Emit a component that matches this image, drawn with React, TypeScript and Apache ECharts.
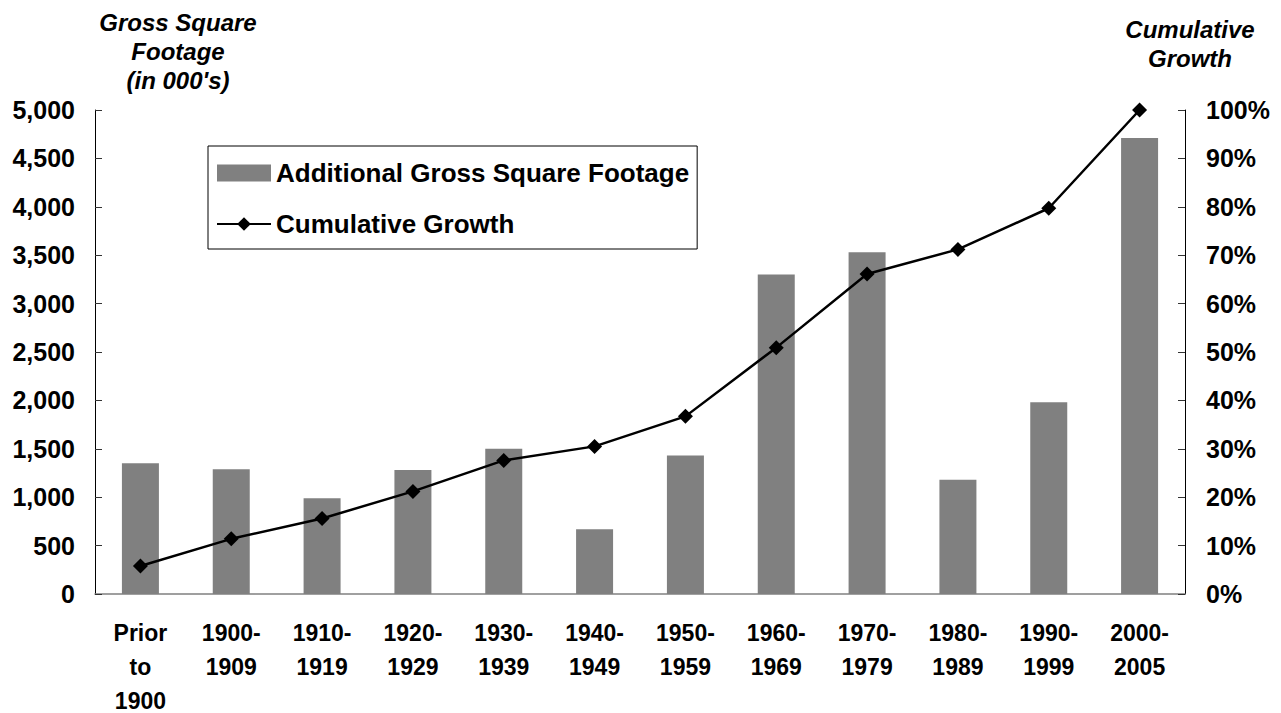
import React, { useEffect, useRef } from "react";
import * as echarts from "echarts";

const categories = [
  "Prior\nto\n1900",
  "1900-\n1909",
  "1910-\n1919",
  "1920-\n1929",
  "1930-\n1939",
  "1940-\n1949",
  "1950-\n1959",
  "1960-\n1969",
  "1970-\n1979",
  "1980-\n1989",
  "1990-\n1999",
  "2000-\n2005",
];
const additionalSqFt = [1350, 1290, 990, 1280, 1500, 670, 1430, 3300, 3530, 1180, 1980, 4710];
const cumulativeGrowth = [5.8, 11.4, 15.6, 21.2, 27.6, 30.5, 36.7, 50.9, 66.1, 71.2, 79.7, 100];

const leftTitle = "Gross Square\nFootage\n(in 000's)";
const rightTitle = "Cumulative\nGrowth";
const barName = "Additional Gross Square Footage";
const lineName = "Cumulative Growth";

const FONT = "Liberation Sans, Arial, Helvetica, sans-serif";

export default function App() {
  const ref = useRef<HTMLDivElement>(null);
  useEffect(() => {
    if (!ref.current) return;
    const chart = echarts.init(ref.current, null, { renderer: "svg" });
    chart.setOption({
      animation: false,
      backgroundColor: "#ffffff",
      textStyle: { fontFamily: FONT },
      graphic: [
        {
          type: "text",
          x: 178,
          y: 8,
          style: {
            text: leftTitle,
            fill: "#000",
            font: `italic bold 24px ${FONT}`,
            align: "center",
            verticalAlign: "top",
            lineHeight: 29,
          },
        },
        {
          type: "text",
          x: 1190,
          y: 15,
          style: {
            text: rightTitle,
            fill: "#000",
            font: `italic bold 24px ${FONT}`,
            align: "center",
            verticalAlign: "top",
            lineHeight: 29,
          },
        },
      ],
      legend: {
        orient: "vertical",
        left: 208,
        top: 146,
        padding: [14, 8, 12, 8],
        itemGap: 25,
        itemWidth: 54,
        itemHeight: 17,
        borderColor: "#000",
        borderWidth: 1,
        backgroundColor: "#fff",
        textStyle: {
          fontSize: 26,
          lineHeight: 26,
          fontWeight: "bold",
          color: "#000",
          fontFamily: FONT,
        },
        data: [
          { name: barName, icon: "rect" },
          { name: lineName },
        ],
      },
      grid: { left: 95, right: 96, top: 110, bottom: 119, outerBoundsMode: "none", containLabel: false },
      xAxis: {
        type: "category",
        data: categories,
        axisTick: { show: false },
        axisLine: { lineStyle: { color: "#808080", width: 1.5 } },
        axisLabel: {
          interval: 0,
          margin: 22,
          fontSize: 23,
          lineHeight: 34,
          fontWeight: "bold",
          color: "#000",
          fontFamily: FONT,
          align: "center",
        },
      },
      yAxis: [
        {
          type: "value",
          min: 0,
          max: 5000,
          interval: 500,
          splitLine: { show: false },
          axisLine: { show: true, lineStyle: { color: "#000", width: 1 } },
          axisTick: { show: true, inside: true, length: 7, lineStyle: { color: "#333" } },
          axisLabel: {
            margin: 20,
            fontSize: 25,
            fontWeight: "bold",
            color: "#000",
            fontFamily: FONT,
            formatter: (v: number) => v.toLocaleString("en-US"),
          },
        },
        {
          type: "value",
          position: "right",
          min: 0,
          max: 100,
          interval: 10,
          splitLine: { show: false },
          axisLine: { show: true, lineStyle: { color: "#000", width: 1 } },
          axisTick: { show: true, inside: true, length: 7, lineStyle: { color: "#333" } },
          axisLabel: {
            margin: 21,
            fontSize: 25,
            fontWeight: "bold",
            color: "#000",
            fontFamily: FONT,
            formatter: "{value}%",
          },
        },
      ],
      series: [
        {
          name: barName,
          type: "bar",
          data: additionalSqFt,
          yAxisIndex: 0,
          barWidth: 37,
          itemStyle: { color: "#808080" },
          z: 1,
        },
        {
          name: lineName,
          type: "line",
          data: cumulativeGrowth,
          yAxisIndex: 1,
          symbol: "diamond",
          symbolSize: 15,
          lineStyle: { color: "#000", width: 2.5 },
          itemStyle: { color: "#000" },
          z: 3,
        },
      ],
    });
    return () => chart.dispose();
  }, []);
  return (
    <div
      ref={ref}
      style={{ position: "absolute", left: 0, top: 0, width: 1281, height: 713 }}
    />
  );
}
